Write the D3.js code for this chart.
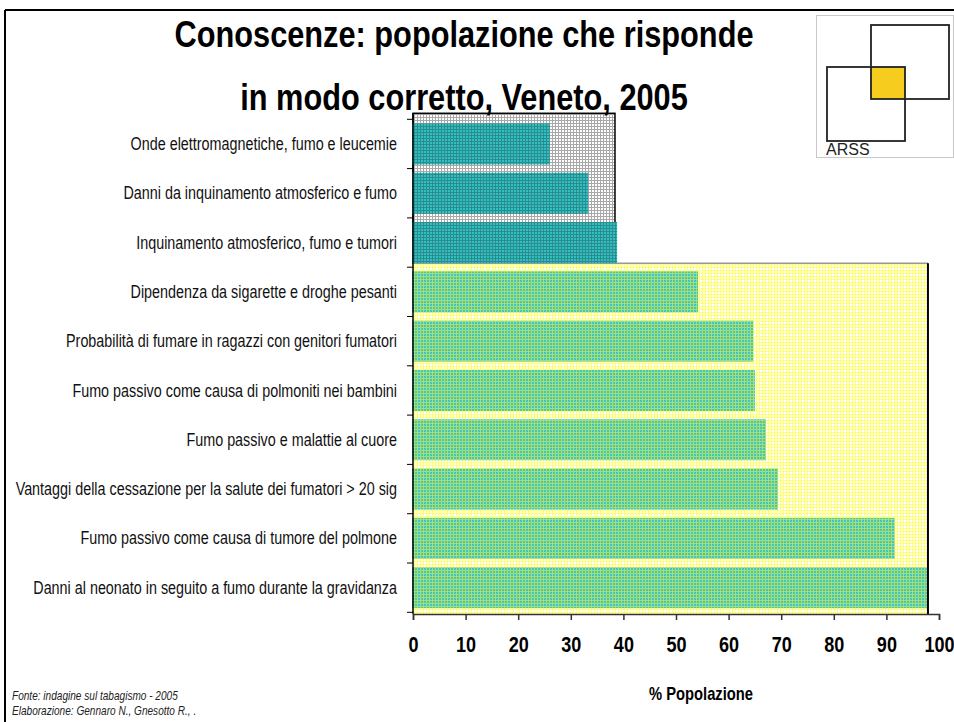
<!DOCTYPE html>
<html>
<head>
<meta charset="utf-8">
<script src="https://cdn.jsdelivr.net/npm/d3@7"></script>
<style>
  html, body { margin: 0; padding: 0; background: #fff; }
  svg { display: block; }
</style>
</head>
<body>
<svg id="chart" width="954" height="722"></svg>
<script>
// Knowledge items, listed from the top of the chart downwards
const categories = [
  "Onde elettromagnetiche, fumo e leucemie",
  "Danni da inquinamento atmosferico e fumo",
  "Inquinamento atmosferico, fumo e tumori",
  "Dipendenza da sigarette e droghe pesanti",
  "Probabilità di fumare in ragazzi con genitori fumatori",
  "Fumo passivo come causa di polmoniti nei bambini",
  "Fumo passivo e malattie al cuore",
  "Vantaggi della cessazione per la salute dei fumatori > 20 sig",
  "Fumo passivo come causa di tumore del polmone",
  "Danni al neonato in seguito a fumo durante la gravidanza"
];
// % of respondents answering correctly
const values = [26.0, 33.3, 38.8, 54.2, 64.7, 65.0, 67.1, 69.4, 91.6, 97.7];
// Panel each item belongs to: environment questions vs. smoking questions
const panels = ["ambiente", "ambiente", "ambiente", "fumo", "fumo", "fumo", "fumo", "fumo", "fumo", "fumo"];
const xTicks = [0, 10, 20, 30, 40, 50, 60, 70, 80, 90, 100];

const titleLines = ["Conoscenze: popolazione che risponde", "in modo corretto, Veneto, 2005"];
const sourceLines = ["Fonte: indagine sul tabagismo - 2005", "Elaborazione: Gennaro N., Gnesotto R., ."];
const xTitle = "% Popolazione";

const FONT = "'Liberation Sans', Arial, sans-serif";
const NARROW = 0.82; // horizontal squeeze giving a narrow typeface

const svg = d3.select("#chart");
const defs = svg.append("defs");

// Textured fills: fine grids over a base colour
function gridPattern(id, bg, line, size, w) {
  const p = defs.append("pattern").attr("id", id)
    .attr("patternUnits", "userSpaceOnUse").attr("width", size).attr("height", size);
  p.append("rect").attr("width", size).attr("height", size).attr("fill", bg);
  p.append("rect").attr("width", size).attr("height", w).attr("fill", line);
  p.append("rect").attr("width", w).attr("height", size).attr("fill", line);
}
gridPattern("grayBg", "#ffffff", "#a8a8a8", 3, 1);
gridPattern("yellowBg", "#ffffff", "#ffff70", 3, 1);
gridPattern("barGray", "#30c0c0", "#2a8c90", 3, 1);
gridPattern("barYellow", "#40c8c0", "#a8de70", 3, 1);

// Narrow text placed at (px, py)
function narrowText(sel, px, py) {
  return sel.attr("x", 0).attr("y", 0)
    .attr("transform", (d, i) => `translate(${typeof px === "function" ? px(d, i) : px},${typeof py === "function" ? py(d, i) : py}) scale(${NARROW},1)`)
    .attr("font-family", FONT);
}

// Scales
const x = d3.scaleLinear().domain([0, 100]).range([413, 939]);
const y = d3.scaleBand().domain(categories).range([119.3, 612.3])
  .paddingInner(0.168).paddingOuter(0.084);
const step = y.step();

// Plot-area extents of the two panels
const grayMax = 38.4, yellowMax = 97.9;
const grayTop = y.range()[0] - 6;
const splitY = y(categories[3]) - 8;
const bottomY = 614;

// Outer frame
svg.append("line").attr("x1", 5).attr("x2", 954).attr("y1", 10).attr("y2", 10)
  .attr("stroke", "#000").attr("stroke-width", 2);
svg.append("line").attr("x1", 5).attr("x2", 5).attr("y1", 10).attr("y2", 722)
  .attr("stroke", "#000").attr("stroke-width", 2);

// Panel backgrounds
svg.append("rect").attr("x", x(0)).attr("y", grayTop)
  .attr("width", x(grayMax) - x(0)).attr("height", splitY - grayTop)
  .attr("fill", "url(#grayBg)").attr("stroke", "#000").attr("stroke-width", 1.5);
svg.append("rect").attr("x", x(0)).attr("y", splitY)
  .attr("width", x(yellowMax) - x(0)).attr("height", bottomY - splitY)
  .attr("fill", "url(#yellowBg)");
svg.append("line").attr("x1", x(0)).attr("x2", x(yellowMax)).attr("y1", splitY).attr("y2", splitY)
  .attr("stroke", "#999").attr("stroke-width", 1.5);
svg.append("line").attr("x1", x(yellowMax)).attr("x2", x(yellowMax)).attr("y1", splitY).attr("y2", bottomY)
  .attr("stroke", "#000").attr("stroke-width", 2);

// Bars
svg.append("g").selectAll("rect").data(categories).join("rect")
  .attr("x", x(0) - 1)
  .attr("y", d => y(d))
  .attr("width", (d, i) => x(values[i]) - x(0) + 1)
  .attr("height", y.bandwidth())
  .attr("fill", (d, i) => panels[i] === "ambiente" ? "url(#barGray)" : "url(#barYellow)");

// Y axis: category separators and labels
const yAxisG = svg.append("g");
yAxisG.append("line").attr("x1", x(0)).attr("x2", x(0)).attr("y1", grayTop).attr("y2", bottomY)
  .attr("stroke", "#000").attr("stroke-width", 1.5);
yAxisG.selectAll("line.tk").data(d3.range(categories.length + 1)).join("line")
  .attr("class", "tk")
  .attr("x1", x(0) - 6).attr("x2", x(0))
  .attr("y1", i => y.range()[0] + i * step).attr("y2", i => y.range()[0] + i * step)
  .attr("stroke", "#000").attr("stroke-width", 1);
narrowText(yAxisG.selectAll("text").data(categories).join("text"), 397, d => y(d) + y.bandwidth() / 2)
  .attr("dy", "0.35em")
  .attr("text-anchor", "end")
  .attr("font-size", 17.5)
  .attr("fill", "#111")
  .text(d => d);

// X axis
const xAxis = d3.axisBottom(x).tickValues(xTicks).tickSize(6).tickPadding(0).tickFormat(d3.format("d"));
const xg = svg.append("g").attr("transform", `translate(0,${bottomY})`).call(xAxis);
xg.select(".domain").attr("stroke", "#333").attr("stroke-width", 1.5);
xg.selectAll(".tick line").attr("stroke", "#333").attr("stroke-width", 1.5);
xg.selectAll(".tick text")
  .attr("y", 38).attr("dy", 0)
  .attr("transform", `scale(${NARROW},1)`)
  .attr("font-family", FONT).attr("font-size", 22).attr("font-weight", "bold").attr("fill", "#000");

// Axis title
narrowText(svg.append("text"), 701, 700)
  .attr("text-anchor", "middle").attr("font-size", 18).attr("font-weight", "bold")
  .text(xTitle);

// Title
narrowText(svg.append("g").selectAll("text").data(titleLines).join("text"), 464, (d, i) => 47 + i * 63)
  .attr("text-anchor", "middle").attr("font-size", 37.5).attr("font-weight", "bold")
  .text(d => d);

// Source notes
narrowText(svg.append("g").selectAll("text").data(sourceLines).join("text"), 12, (d, i) => 700 + i * 15)
  .attr("font-size", 12.3).attr("font-style", "italic").attr("fill", "#222")
  .text(d => d);

// ARSS logo
const logo = svg.append("g");
logo.append("rect").attr("x", 816.5).attr("y", 15.5).attr("width", 137).attr("height", 142)
  .attr("fill", "#fff").attr("stroke", "#c8c8c8").attr("stroke-width", 1);
logo.append("rect").attr("x", 871).attr("y", 67).attr("width", 34).attr("height", 32).attr("fill", "#f6cd1f");
logo.append("rect").attr("x", 871).attr("y", 25).attr("width", 78).attr("height", 74)
  .attr("fill", "none").attr("stroke", "#222").attr("stroke-width", 1.8);
logo.append("rect").attr("x", 827).attr("y", 67).attr("width", 78).attr("height", 74)
  .attr("fill", "none").attr("stroke", "#222").attr("stroke-width", 1.8);
logo.append("text").attr("x", 826).attr("y", 155)
  .attr("font-family", FONT).attr("font-size", 16).attr("fill", "#222")
  .text("ARSS");
</script>
</body>
</html>
